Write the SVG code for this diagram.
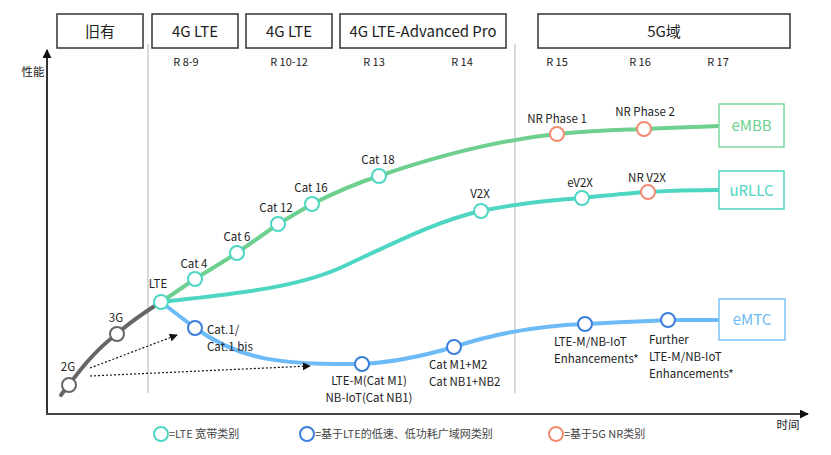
<svg xmlns="http://www.w3.org/2000/svg" width="831" height="455" viewBox="0 0 831 455">
<defs>
<style>
text{font-family:"Noto Sans CJK SC","Noto Sans",sans-serif;fill:#222}
.hdr rect{fill:#fff;stroke:#333;stroke-width:1.5}
.hdr text{font-size:15px;text-anchor:middle}
.rel{font-size:11px;text-anchor:middle}
.lbl{font-size:11.5px}
.c{text-anchor:middle}
.n{fill:#fff;stroke-width:2}
.g{stroke:#666}.t{stroke:#4dd6c2}.b{stroke:#3b7fd8}.s{stroke:#f28b72}
.line{fill:none;stroke-width:4;stroke-linecap:round}
</style>
<marker id="ah" viewBox="0 0 10 10" refX="9" refY="5" markerWidth="8" markerHeight="8" markerUnits="userSpaceOnUse" orient="auto"><path d="M0,0L10,5L0,10z" fill="#111"/></marker>
<marker id="ax" viewBox="0 0 10 10" refX="9" refY="5" markerWidth="9" markerHeight="9" markerUnits="userSpaceOnUse" orient="auto"><path d="M0,0L10,5L0,10z" fill="#111"/></marker>
</defs>
<rect width="831" height="455" fill="#fff"/>
<g id="headers" class="hdr">
<rect x="57" y="14" width="86" height="34"/><text x="100" y="37">旧有</text>
<rect x="152" y="14" width="86" height="34"/><text x="195" y="37">4G LTE</text>
<rect x="246" y="14" width="86" height="34"/><text x="289" y="37">4G LTE</text>
<rect x="340" y="14" width="166" height="34"/><text x="423" y="37">4G LTE-Advanced Pro</text>
<rect x="538" y="14" width="252" height="34"/><text x="664" y="37">5G域</text>
</g>
<g id="releases" class="rel">
<text x="186" y="66">R 8-9</text><text x="289" y="66">R 10-12</text><text x="374" y="66">R 13</text><text x="462" y="66">R 14</text>
<text x="557" y="66">R 15</text><text x="640" y="66">R 16</text><text x="718" y="66">R 17</text>
</g>
<g id="axes">
<line x1="148" y1="44" x2="148" y2="393" stroke="#ccc" stroke-width="1.5"/>
<line x1="515" y1="44" x2="515" y2="393" stroke="#ccc" stroke-width="1.5"/>
<line x1="47" y1="414" x2="47" y2="50" stroke="#333" stroke-width="2" marker-end="url(#ax)"/>
<line x1="46" y1="414" x2="808" y2="414" stroke="#444" stroke-width="2" marker-end="url(#ax)"/>
<text x="33" y="76" font-size="11.5" class="c">性能</text>
<text x="788" y="429" font-size="11.5" class="c">时间</text>
</g>
<g id="connectors">
<path class="line" stroke="#6dd08f" d="M161,302 L195,279 L237,253 L278,224 L312,204 C340,190 360,182 379,176 C440,155 500,140 557,134 C600,130 620,130 644,129 C680,127 700,127 718,126"/>
<path class="line" stroke="#4dd6c2" d="M161,302 C220,295 290,290 340,268 C400,240 440,220 481,211 C520,203 550,200 582,198 C610,195 630,193 648,192 C680,190 700,190 718,190"/>
<path class="line" stroke="#6cbaf6" d="M161,302 L195,328 C240,360 280,365 362,364 C400,362 430,354 454,347 C490,335 530,326 585,324 C620,322 645,321 668,320 L718,320"/>
<path class="line" stroke="#666" d="M61,395 C80,370 95,350 117,334 C130,322 145,312 161,302"/>
<line x1="90" y1="368" x2="177" y2="335" stroke="#111" stroke-width="1.2" stroke-dasharray="2,2" marker-end="url(#ah)"/>
<line x1="90" y1="376" x2="310" y2="366" stroke="#111" stroke-width="1.2" stroke-dasharray="2,2" marker-end="url(#ah)"/>
</g>
<g id="n2G"><circle class="n g" cx="69" cy="385" r="7"/><text class="lbl c" x="68" y="371">2G</text></g>
<g id="n3G"><circle class="n g" cx="117" cy="334" r="7"/><text class="lbl c" x="116" y="322">3G</text></g>
<g id="nLTE"><circle class="n t" cx="161" cy="302" r="7"/><text class="lbl c" x="158" y="288">LTE</text></g>
<g id="cat4"><circle class="n t" cx="195" cy="279" r="7"/><text class="lbl c" x="194" y="268">Cat 4</text></g>
<g id="cat6"><circle class="n t" cx="237" cy="253" r="7"/><text class="lbl c" x="237" y="241">Cat 6</text></g>
<g id="cat12"><circle class="n t" cx="278" cy="224" r="7"/><text class="lbl c" x="276" y="212">Cat 12</text></g>
<g id="cat16"><circle class="n t" cx="312" cy="204" r="7"/><text class="lbl c" x="311" y="192">Cat 16</text></g>
<g id="cat18"><circle class="n t" cx="379" cy="176" r="7"/><text class="lbl c" x="378" y="164">Cat 18</text></g>
<g id="nrp1"><circle class="n s" cx="557" cy="134" r="7"/><text class="lbl c" x="557" y="123">NR Phase 1</text></g>
<g id="nrp2"><circle class="n s" cx="644" cy="129" r="7"/><text class="lbl c" x="645" y="116">NR Phase 2</text></g>
<g id="v2x"><circle class="n t" cx="481" cy="211" r="7"/><text class="lbl c" x="480" y="198">V2X</text></g>
<g id="ev2x"><circle class="n t" cx="582" cy="198" r="7"/><text class="lbl c" x="580" y="187">eV2X</text></g>
<g id="nrv2x"><circle class="n s" cx="648" cy="192" r="7"/><text class="lbl c" x="647" y="182">NR V2X</text></g>
<g id="cat1"><circle class="n b" cx="195" cy="328" r="7"/><text class="lbl" x="207" y="334">Cat.1/</text><text class="lbl" x="207" y="351">Cat.1 bis</text></g>
<g id="ltem"><circle class="n b" cx="362" cy="364" r="7"/><text class="lbl c" x="369" y="385">LTE-M(Cat M1)</text><text class="lbl c" x="369" y="402">NB-IoT(Cat NB1)</text></g>
<g id="catm1m2"><circle class="n b" cx="454" cy="347" r="7"/><text class="lbl" x="429" y="369">Cat M1+M2</text><text class="lbl" x="429" y="386">Cat NB1+NB2</text></g>
<g id="enh"><circle class="n b" cx="585" cy="324" r="7"/><text class="lbl" x="554" y="346">LTE-M/NB-IoT</text><text class="lbl" x="554" y="363">Enhancements*</text></g>
<g id="further"><circle class="n b" cx="668" cy="320" r="7"/><text class="lbl" x="649" y="344">Further</text><text class="lbl" x="649" y="361">LTE-M/NB-IoT</text><text class="lbl" x="649" y="378">Enhancements*</text></g>
<g id="embb"><rect x="719" y="104" width="65" height="43" fill="#fff" stroke="#7dd9a0" stroke-width="1.5"/><text x="751.5" y="131" font-size="15" class="c" style="fill:#6dd08f">eMBB</text></g>
<g id="urllc"><rect x="719" y="171" width="65" height="38" fill="#fff" stroke="#4dd6c2" stroke-width="1.5"/><text x="751.5" y="196" font-size="15" class="c" style="fill:#4dd6c2">uRLLC</text></g>
<g id="emtc"><rect x="719" y="299" width="66" height="41" fill="#fff" stroke="#7cc3f7" stroke-width="1.5"/><text x="752" y="325" font-size="15" class="c" style="fill:#6cbaf6">eMTC</text></g>
<g id="legend" font-size="11">
<circle class="n t" cx="161" cy="434" r="7"/><text x="169" y="438" font-size="11" style="fill:#444">=LTE 宽带类别</text>
<circle class="n b" cx="307" cy="434" r="7"/><text x="315" y="438" font-size="11" style="fill:#444">=基于LTE的低速、低功耗广域网类别</text>
<circle class="n s" cx="556" cy="434" r="7"/><text x="564" y="438" font-size="11" style="fill:#444">=基于5G NR类别</text>
</g>
</svg>
